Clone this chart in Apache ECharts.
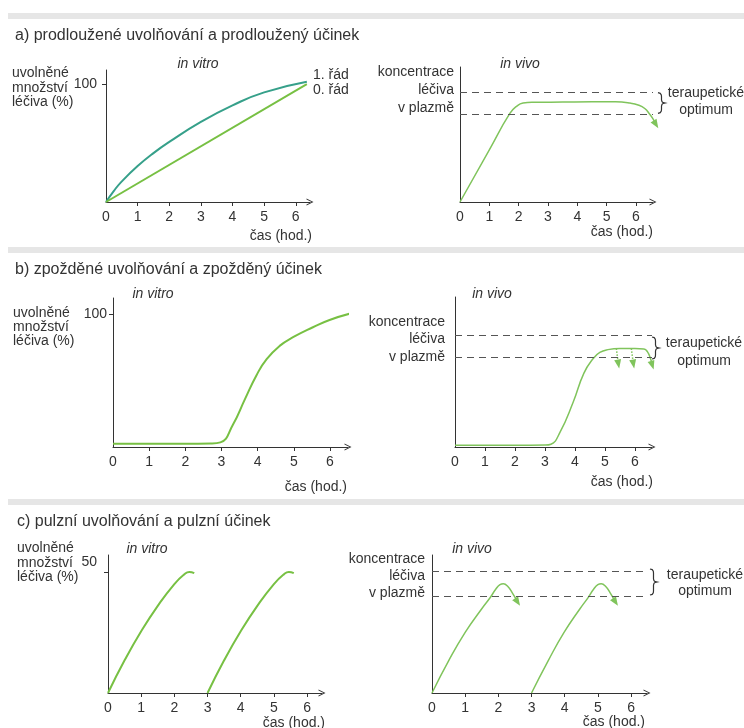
<!DOCTYPE html>
<html>
<head>
<meta charset="utf-8">
<script src="https://cdn.jsdelivr.net/npm/echarts@6/dist/echarts.min.js"></script>
<style>html,body{margin:0;padding:0;background:#fff}#main{width:744px;height:728px}</style>
</head>
<body>
<div id="main"></div>
<script>
// osa x: hodiny
var hours = [0, 1, 2, 3, 4, 5, 6];
var tickHours = [1, 2, 3, 4, 5, 6];
// terapeutické okno (dolní, horní mez koncentrace)
var optimum = [80, 100];

// a) prodloužené uvolňování
var aVitroFirst = [[0,0],[0.25,9.5],[0.5,17.5],[1,30.5],[1.5,41.5],[2,51],[3,68],[4,82],[5,93],[6.35,102]];
var aVitroZero = [[0,0],[6.35,100]];
var aVivo = [[0,0],[1,47.7],[1.7,81],[1.95,88],[2.15,90.5],[2.5,91.2],[3.5,91.4],[4.5,91.6],[5.3,91.6],[5.8,90.5],[6.1,88.5],[6.3,85.5],[6.45,81],[6.58,76],[6.68,71]];

// b) zpožděné uvolňování
var bVitro = [[0,2.5],[1,2.5],[2,2.5],[2.7,2.7],[2.97,3.5],[3.32,17],[3.65,36],[3.97,54],[4.25,66],[4.61,76],[4.98,82.5],[5.53,90],[5.99,95.5],[6.59,100.5]];
var bVivo = [[0,1.5],[1,1.5],[2,1.5],[3,1.7],[3.2,2.5],[3.5,13],[3.94,40],[4.3,66],[4.61,79],[4.83,84.5],[5.1,87],[5.5,88],[6,88],[6.3,87.5],[6.42,85],[6.52,79],[6.58,73]];
var bDropA = [[5.38,88],[5.45,74]];
var bDropB = [[5.88,88],[5.95,74]];

// c) pulzní uvolňování
var cVitroFirst = [[0,0],[0.5,13.5],[1,25.5],[1.5,36],[2,45],[2.3,49],[2.45,50],[2.6,49.5]];
var cVitroSecond = [[3,0],[3.5,13.5],[4,25.5],[4.5,36],[5,45],[5.3,49],[5.45,50],[5.6,49.5]];
var cVivoFirst = [[0,0],[0.5,26.5],[1,50],[1.5,69.5],[1.75,78.5],[1.92,85.5],[2.05,89.3],[2.15,90],[2.28,88],[2.42,82.5],[2.58,75]];
var cVivoSecond = [[3,0],[3.5,26.5],[3.98,50],[4.46,69.5],[4.7,78.5],[4.87,85.5],[5,89.3],[5.1,90],[5.23,88],[5.37,82.5],[5.53,75]];

var FONT = '"Liberation Sans", Arial, Helvetica, sans-serif';
var INK = '#333';
var GREEN = '#77c043';
var GREEN_VIVO = '#80c45c';
var TEAL = '#36a08a';
var CHEVRON = 'path://M0,10 L5,0 L10,10 L8.6,10 L5,2.8 L1.4,10 Z';

var myChart = echarts.init(document.getElementById('main'), null, {renderer: 'canvas'});

function xAx(i, max) {
  return {
    type: 'value', gridIndex: i, min: 0, max: max,
    splitLine: {show: false},
    axisLine: {lineStyle: {color: INK, width: 1}, symbol: ['none', CHEVRON], symbolSize: [8, 7]},
    axisTick: {customValues: tickHours, length: 4, lineStyle: {color: INK}},
    axisLabel: {customValues: hours, color: INK, fontSize: 14, fontFamily: FONT, margin: 8}
  };
}

function yAx(i, max, mark, margin, raised) {
  var ax = {
    type: 'value', gridIndex: i, min: 0, max: max,
    splitLine: {show: false},
    axisLine: {lineStyle: {color: INK, width: 1}},
    axisTick: {show: false},
    axisLabel: {show: false}
  };
  if (mark) {
    ax.axisTick = {customValues: [mark], length: 4, lineStyle: {color: INK}};
    ax.axisLabel = {customValues: [mark], color: INK, fontSize: 14, fontFamily: FONT, margin: margin};
    if (raised) {
      ax.axisLabel.verticalAlign = 'bottom';
      ax.axisLabel.lineHeight = 20;
    }
  }
  return ax;
}

var dashes = {
  symbol: 'none', silent: true, label: {show: false},
  lineStyle: {type: [7, 5], color: '#555', width: 1},
  data: [{yAxis: optimum[1]}, {yAxis: optimum[0]}]
};

function line(i, pts, color, w, rot, extra) {
  var data = pts.map(function (p, k) {
    if (rot != null && k === pts.length - 1) {
      return {value: p, symbol: 'triangle', symbolSize: [7, 9], symbolRotate: rot, itemStyle: {color: color}};
    }
    return {value: p, symbol: 'none'};
  });
  var s = {
    type: 'line', xAxisIndex: i, yAxisIndex: i, data: data,
    smooth: 0.5, showSymbol: true, showAllSymbol: true, clip: false, silent: true,
    lineStyle: {color: color, width: w}, itemStyle: {color: color}
  };
  for (var key in (extra || {})) s[key] = extra[key];
  return s;
}

function txt(x, y, text, o) {
  o = o || {};
  return {
    type: 'text', x: x, y: y, silent: true,
    style: {
      text: text, fill: INK, fontFamily: FONT, fontSize: o.size || 14,
      fontStyle: o.italic ? 'italic' : 'normal',
      lineHeight: o.lh || 16,
      align: o.align || 'left', textAlign: o.align || 'left',
      verticalAlign: o.va || 'middle', textVerticalAlign: o.va || 'middle'
    }
  };
}

// složená závorka "}" jako lomená čára
function brace(x, y, h) {
  var m = y + h / 2;
  return {
    type: 'polyline', silent: true,
    shape: {points: [
      [x, y], [x + 2.2, y + 0.6], [x + 3.3, y + 2.2], [x + 3.5, y + 4],
      [x + 3.5, m - 3], [x + 4, m - 1.4], [x + 5.2, m - 0.4], [x + 7, m],
      [x + 5.2, m + 0.4], [x + 4, m + 1.4], [x + 3.5, m + 3],
      [x + 3.5, y + h - 4], [x + 3.3, y + h - 2.2], [x + 2.2, y + h - 0.6], [x, y + h]
    ]},
    style: {fill: null, stroke: INK, lineWidth: 1.2}
  };
}

function band(y) {
  return {type: 'rect', silent: true, shape: {x: 8, y: y, width: 736, height: 6}, style: {fill: '#e6e6e6'}};
}

var leftName = 'uvolněné\nmnožství\nléčiva (%)';
var rightName = 'koncentrace\nléčiva\nv plazmě';
var optName = 'teraupetické\noptimum';
var dotted = {smooth: false, lineStyle: {color: GREEN_VIVO, width: 1.5, type: 'dotted'}};

var option = {
  animation: false,
  grid: [
    {left: 106, top: 70, width: 204, height: 132},
    {left: 460, top: 67, width: 193, height: 135},
    {left: 113, top: 298, width: 235, height: 149},
    {left: 455, top: 297, width: 197, height: 150},
    {left: 108, top: 555, width: 214, height: 138},
    {left: 432, top: 555, width: 215, height: 138}
  ],
  xAxis: [xAx(0, 6.45), xAx(1, 6.58), xAx(2, 6.5), xAx(3, 6.57), xAx(4, 6.45), xAx(5, 6.48)],
  yAxis: [
    yAx(0, 112, 100, 9), yAx(1, 123.5),
    yAx(2, 112, 100, 6), yAx(3, 134),
    yAx(4, 57, 50, 11, true), yAx(5, 113.8)
  ],
  series: [
    line(0, aVitroFirst, TEAL, 2),
    line(0, aVitroZero, GREEN, 2),
    line(1, aVivo, GREEN_VIVO, 1.5, 212, {markLine: dashes}),
    line(2, bVitro, GREEN, 2),
    line(3, bVivo, GREEN_VIVO, 1.5, 197, {markLine: dashes}),
    line(3, bDropA, GREEN_VIVO, 1.5, 190, dotted),
    line(3, bDropB, GREEN_VIVO, 1.5, 190, dotted),
    line(4, cVitroFirst, GREEN, 2),
    line(4, cVitroSecond, GREEN, 2),
    line(5, cVivoFirst, GREEN_VIVO, 1.5, 213, {markLine: dashes}),
    line(5, cVivoSecond, GREEN_VIVO, 1.5, 213)
  ],
  graphic: [
    band(13), band(247), band(499),
    txt(15, 36, 'a) prodloužené uvolňování a prodloužený účinek', {size: 16}),
    txt(15, 270, 'b) zpožděné uvolňování a zpožděný účinek', {size: 16}),
    txt(17, 522, 'c) pulzní uvolňování a pulzní účinek', {size: 16}),

    txt(12, 66, leftName, {va: 'top', lh: 14.5}),
    txt(13, 306, leftName, {va: 'top', lh: 14}),
    txt(17, 541, leftName, {va: 'top', lh: 14.5}),

    txt(454, 63, rightName, {va: 'top', lh: 18, align: 'right'}),
    txt(445, 313, rightName, {va: 'top', lh: 17.5, align: 'right'}),
    txt(425, 551, rightName, {va: 'top', lh: 17, align: 'right'}),

    txt(198, 64, 'in vitro', {italic: true, align: 'center'}),
    txt(520, 64, 'in vivo', {italic: true, align: 'center'}),
    txt(153, 294, 'in vitro', {italic: true, align: 'center'}),
    txt(492, 294, 'in vivo', {italic: true, align: 'center'}),
    txt(147, 549, 'in vitro', {italic: true, align: 'center'}),
    txt(472, 549, 'in vivo', {italic: true, align: 'center'}),

    txt(312, 236, 'čas (hod.)', {align: 'right'}),
    txt(653, 232, 'čas (hod.)', {align: 'right'}),
    txt(347, 487, 'čas (hod.)', {align: 'right'}),
    txt(653, 482, 'čas (hod.)', {align: 'right'}),
    txt(325, 723, 'čas (hod.)', {align: 'right'}),
    txt(645, 722, 'čas (hod.)', {align: 'right'}),

    txt(313, 75, '1. řád'),
    txt(313, 90, '0. řád'),

    brace(658, 92.7, 20.6),
    brace(652, 337, 22),
    brace(650, 569, 26),
    txt(706, 85, optName, {va: 'top', lh: 17, align: 'center'}),
    txt(704, 334, optName, {va: 'top', lh: 18, align: 'center'}),
    txt(705, 567, optName, {va: 'top', lh: 16, align: 'center'})
  ]
};

myChart.setOption(option);
</script>
</body>
</html>
